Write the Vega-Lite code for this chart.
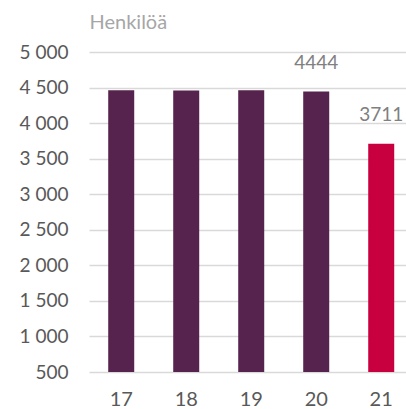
{
  "$schema": "https://vega.github.io/schema/vega-lite/v6.json",
  "width": 317,
  "height": 320,
  "autosize": "none",
  "padding": {"left": 89, "top": 52, "right": 0, "bottom": 37},
  "background": "white",
  "data": {
    "values": [
      {"vuosi": "17", "henkiloa": 4462, "jakso": "aiempi"},
      {"vuosi": "18", "henkiloa": 4460, "jakso": "aiempi"},
      {"vuosi": "19", "henkiloa": 4461, "jakso": "aiempi"},
      {"vuosi": "20", "henkiloa": 4444, "jakso": "aiempi"},
      {"vuosi": "21", "henkiloa": 3711, "jakso": "nykyinen"}
    ]
  },
  "encoding": {
    "x": {
      "field": "vuosi",
      "type": "ordinal",
      "sort": null,
      "scale": {"paddingInner": 0.6, "paddingOuter": 0.2385, "align": 0.62},
      "axis": {
        "title": null,
        "domain": false,
        "ticks": false,
        "labelAngle": 0,
        "labelPadding": 17,
        "labelFont": "Lato",
        "labelFontSize": 20,
        "labelColor": "#595959"
      }
    },
    "y": {
      "field": "henkiloa",
      "type": "quantitative",
      "scale": {"domain": [500, 5000], "nice": false, "zero": false},
      "axis": {
        "title": "Henkilöä",
        "titleAngle": 0,
        "titleAlign": "left",
        "titleBaseline": "alphabetic",
        "titleX": 0,
        "titleY": -24,
        "titleFont": "Lato",
        "titleFontSize": 20,
        "titleFontWeight": "normal",
        "titleColor": "#a6a6a6",
        "domain": false,
        "ticks": false,
        "values": [500, 1000, 1500, 2000, 2500, 3000, 3500, 4000, 4500, 5000],
        "labelExpr": "replace(format(datum.value, ','), ',', ' ')",
        "labelPadding": 21,
        "labelFont": "Lato",
        "labelFontSize": 19,
        "labelColor": "#595959",
        "gridColor": "#d9d9d9",
        "gridWidth": 1.5
      }
    }
  },
  "layer": [
    {
      "mark": {"type": "bar", "clip": false},
      "encoding": {
        "y2": {"datum": 500},
        "color": {
          "field": "jakso",
          "type": "nominal",
          "scale": {"domain": ["aiempi", "nykyinen"], "range": ["#55234d", "#c8003f"]},
          "legend": null
        }
      }
    },
    {
      "transform": [{"filter": "datum.vuosi == '20' || datum.vuosi == '21'"}],
      "mark": {
        "type": "text",
        "baseline": "alphabetic",
        "dy": -23,
        "font": "Lato",
        "fontSize": 19,
        "color": "#808080"
      },
      "encoding": {"text": {"field": "henkiloa", "type": "quantitative", "format": "d"}}
    }
  ],
  "config": {"view": {"stroke": null}}
}
